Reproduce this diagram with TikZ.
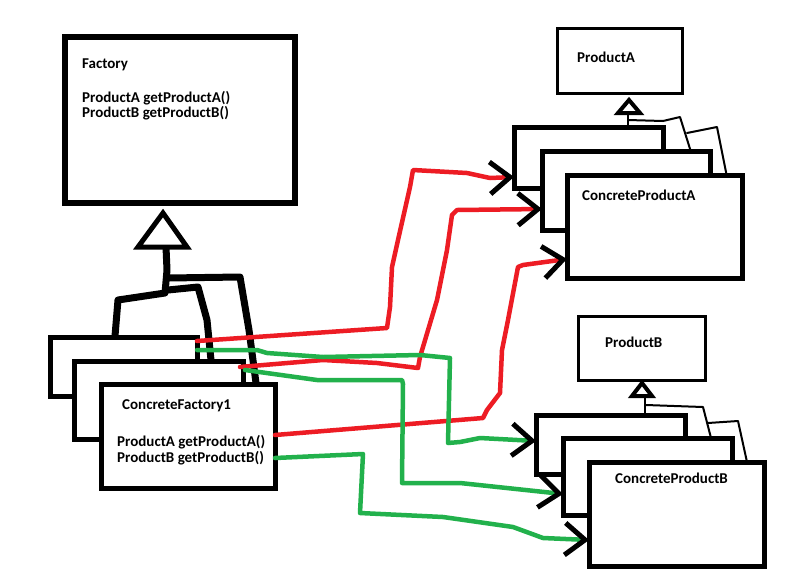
\documentclass[tikz,border=0pt]{standalone}
\usepackage{fontspec}
\setmainfont{Carlito}
\usetikzlibrary{arrows.meta}
\definecolor{pred}{RGB}{237,28,36}
\definecolor{pgreen}{RGB}{34,177,76}
\begin{document}
\begin{tikzpicture}[x=1pt,y=-1pt,
  bx/.style={draw, fill=white, anchor=north west, inner sep=0pt, outer sep=0pt, line width=#1},
  txt/.style={anchor=base west, inner sep=0pt, font=\bfseries\fontsize{15}{15}\selectfont},
  inh/.style={line width=#1, line cap=round, line join=round},
  tri/.style={line width=#1, fill=white, line join=miter},
  conn/.style={line width=4.5pt, line cap=round, line join=round, draw=#1,
    -{Straight Barb[color=black,length=20pt,width=32pt,line width=5pt]}}]
\useasboundingbox[fill=white] (0,0) rectangle (808,574);

% ---- Factory side ----
\node[bx=6pt, minimum width=230pt, minimum height=166pt] (fac) at (65,37) {};
\node[txt] (facT) at (82,68) {Factory};
\node[txt] (facA) at (82,102) {ProductA getProductA()};
\node[txt] (facB) at (82,117) {ProductB getProductB()};

\draw[inh=7pt] (166,247) -- (167,270) -- (165,293) -- (118,300) -- (115,336);
\draw[inh=7pt] (168,290) -- (198,287) -- (207,320) -- (211,360);
\draw[inh=7pt] (168,278) -- (240,277) -- (249,330) -- (256,383);
\draw[tri=5pt] (163,213) -- (187,247) -- (138,247) -- cycle;

\node[bx=5pt, minimum width=147pt, minimum height=59pt] (f1) at (50,337) {};
\node[bx=5pt, minimum width=169pt, minimum height=78pt] (f2) at (74,361) {};
\node[bx=5pt, minimum width=174pt, minimum height=104pt] (f3) at (101,384) {};
\node[txt] (f3T) at (122,409) {ConcreteFactory1};
\node[txt] (f3A) at (117,446) {ProductA getProductA()};
\node[txt] (f3B) at (117,462) {ProductB getProductB()};

% ---- Product A side ----
\node[bx=3pt, minimum width=125pt, minimum height=65pt] (pa) at (557,28) {};
\node[txt] (paT) at (577,62) {ProductA};
\draw[inh=2pt] (628,113) -- (628,127);
\draw[inh=2pt] (628,120) -- (663,121) -- (680,117) -- (691,152);
\draw[inh=2pt] (687,133) -- (717,127) -- (727,177);
\draw[tri=4pt] (629,100) -- (640,113) -- (618,113) -- cycle;
\node[bx=5pt, minimum width=149pt, minimum height=61pt] (a1) at (514,127) {};
\node[bx=5pt, minimum width=168pt, minimum height=79pt] (a2) at (542,151) {};
\node[bx=5pt, minimum width=175pt, minimum height=103pt] (a3) at (567,175) {};
\node[txt] (a3T) at (582,200) {ConcreteProductA};

% ---- Product B side ----
\node[bx=3pt, minimum width=127pt, minimum height=64pt] (pb) at (578,316) {};
\node[txt] (pbT) at (605,347) {ProductB};
\draw[inh=2pt] (645,396) -- (645,410) -- (645,415);
\draw[inh=2pt] (646,405) -- (703,407) -- (711,438);
\draw[inh=2pt] (708,423) -- (738,421) -- (747,462);
\draw[tri=4pt] (642,383) -- (652,396) -- (632,396) -- cycle;
\node[bx=5pt, minimum width=149pt, minimum height=59pt] (b1) at (536,415) {};
\node[bx=5pt, minimum width=169pt, minimum height=77pt] (b2) at (563,438) {};
\node[bx=5pt, minimum width=175pt, minimum height=104pt] (b3) at (589,462) {};
\node[txt] (b3T) at (615,483) {ConcreteProductB};

% ---- connectors ----
\draw[conn=pred] (f1.east |- 0,341) -- (387,328) -- (390,307) -- (392,267) -- (398,240)
  -- (410,187) -- (413,170) -- (467,173) -- (490,178) -- (a1.west |- 0,177);
\draw[conn=pred] (240,367) -- (323,360) -- (377,363) -- (418,368) -- (420,357)
  -- (437,300) -- (447,250) -- (452,215) -- (457,210) -- (a2.west |- 0,209);
\draw[conn=pred] (f3.east |- 0,435) -- (483,418) -- (487,410) -- (500,393) -- (502,350)
  -- (508,320) -- (518,267) -- (523,265) -- (a3.west |- 0,259);
\draw[conn=pgreen] (f1.east |- 0,350) -- (257,350) -- (267,353) -- (323,357) -- (420,355)
  -- (450,358) -- (448,443) -- (460,442) -- (480,438) -- (b1.west |- 0,441);
\draw[conn=pgreen] (245,370) -- (317,380) -- (402,380) -- (403,384) -- (402,483)
  -- (460,483) -- (b2.west |- 0,494);
\draw[conn=pgreen] (f3.east |- 0,458) -- (363,454) -- (360,513) -- (443,517) -- (513,527)
  -- (543,538) -- (b3.west |- 0,540);
\end{tikzpicture}
\end{document}
